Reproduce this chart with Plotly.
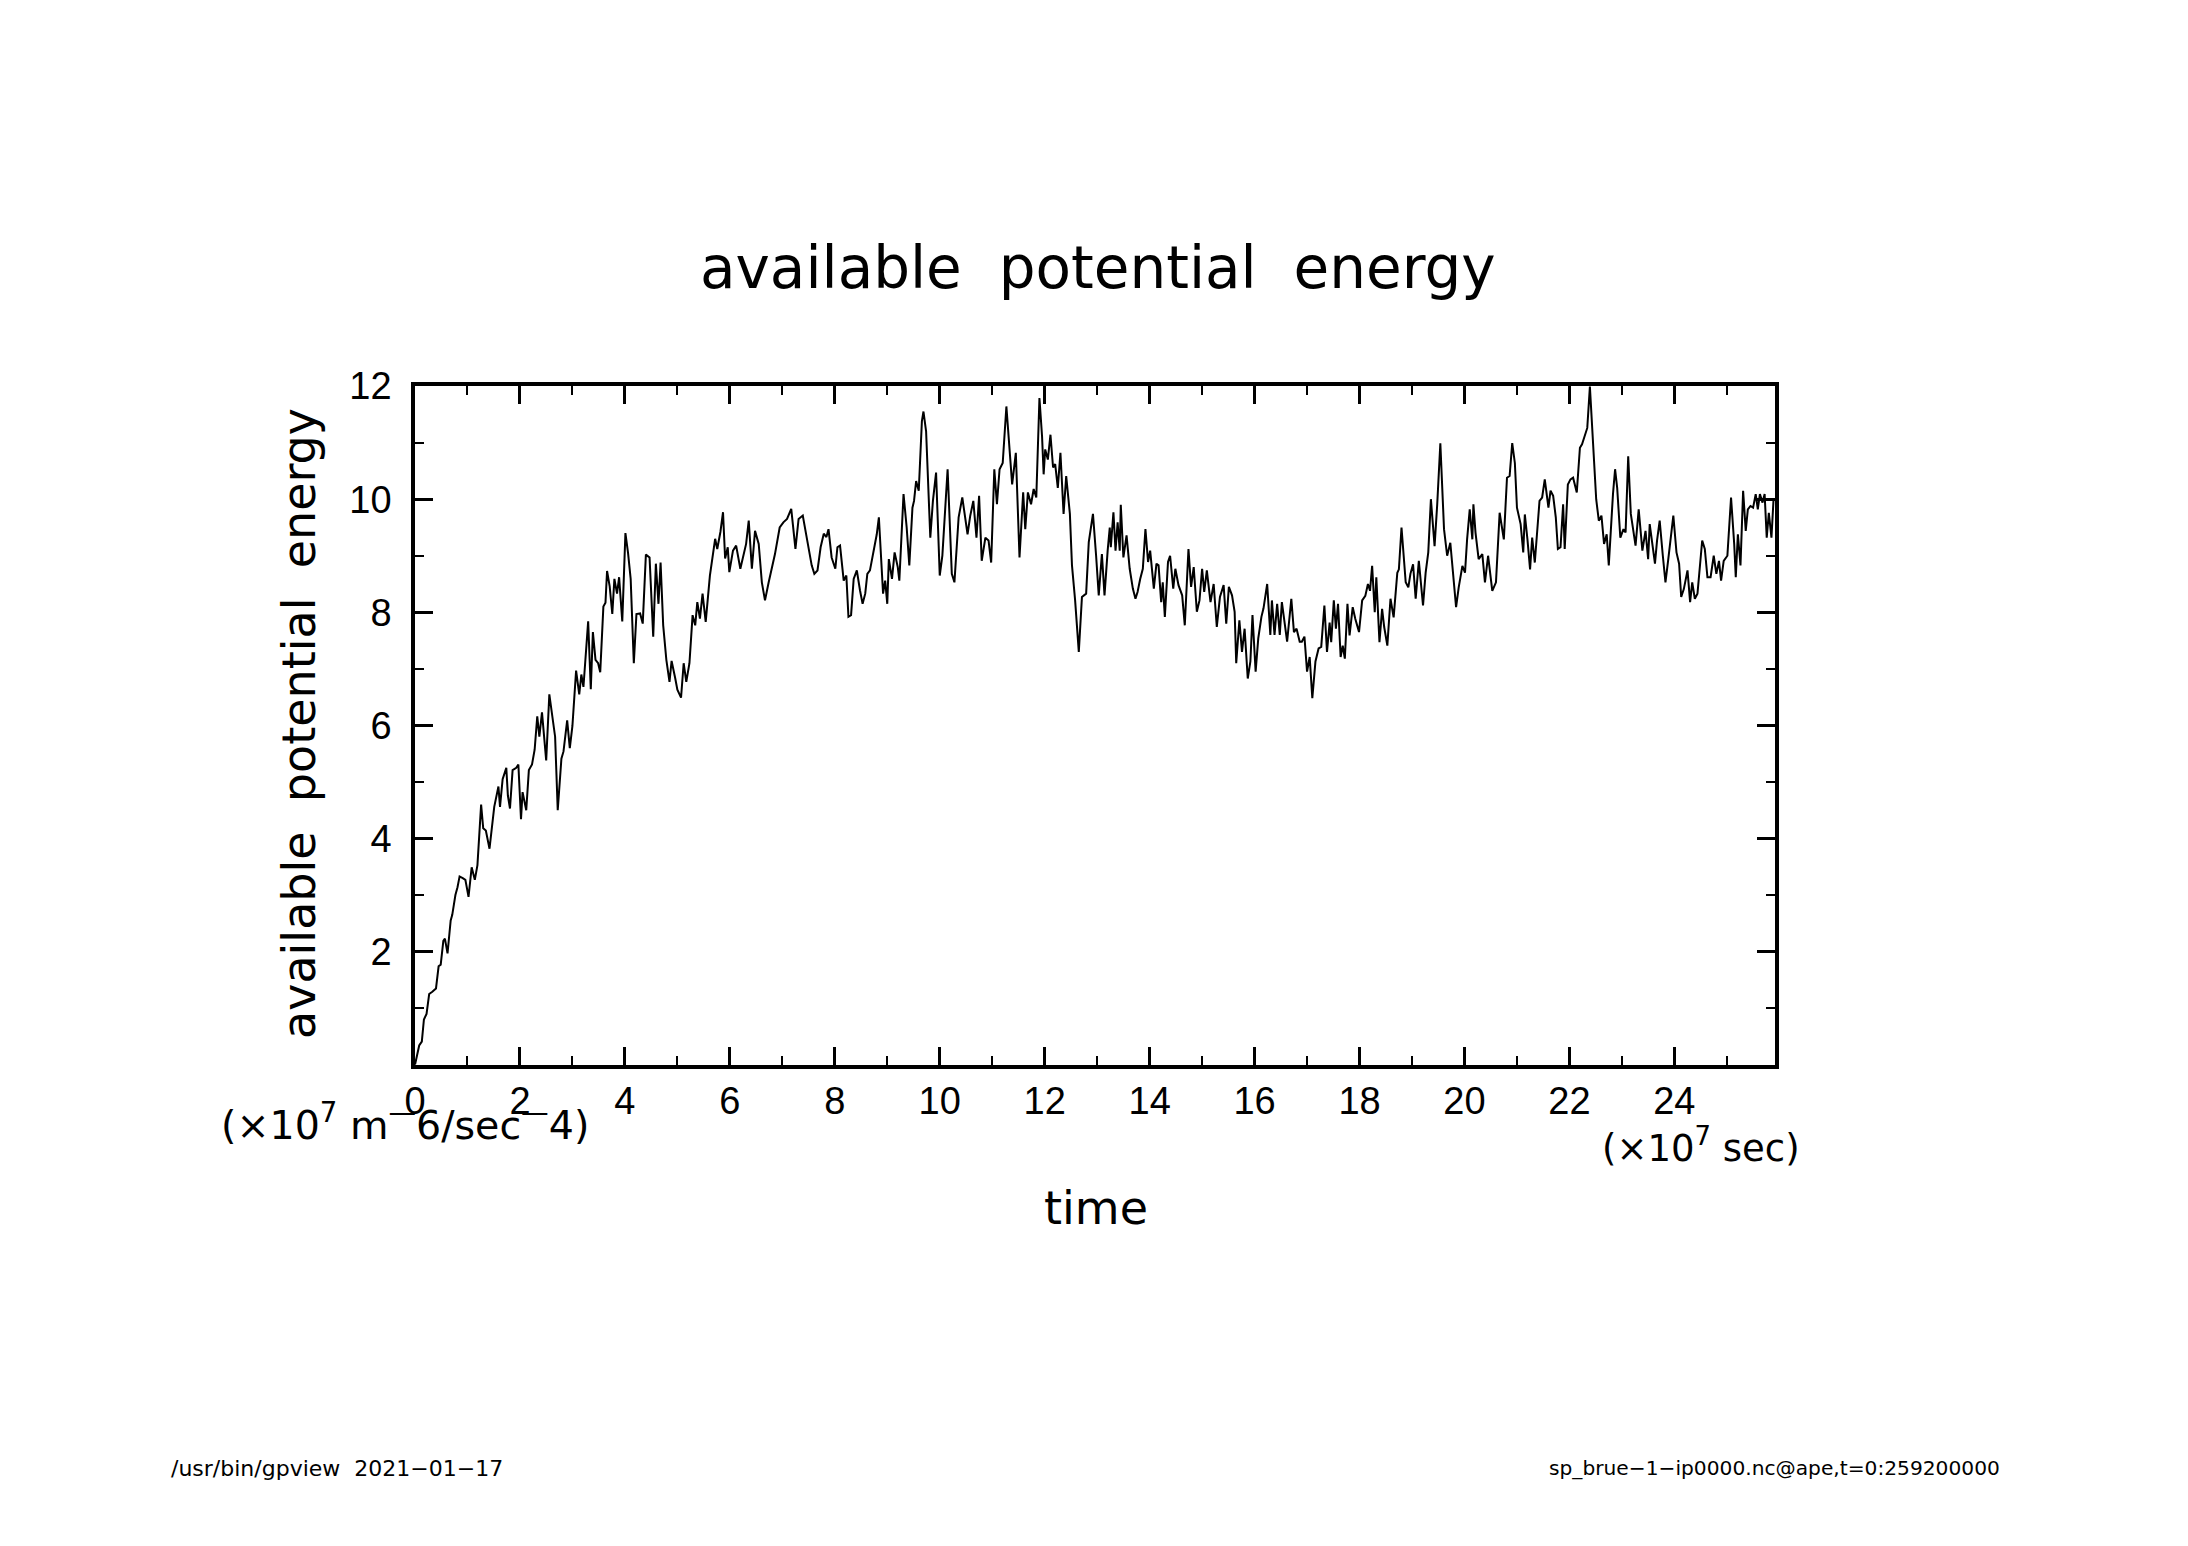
import plotly.graph_objects as go

# (time [x10^7 sec], available potential energy [x10^7])
ape_0_4 = [(0, 0), (0.08, 0.34), (0.13, 0.41), (0.17, 0.8), (0.22, 0.9), (0.27, 1.25), (0.33, 1.29),
           (0.40, 1.35), (0.45, 1.74), (0.49, 1.77), (0.54, 2.19), (0.57, 2.23), (0.62, 1.97), (0.68, 2.55),
           (0.71, 2.65), (0.77, 3.0), (0.81, 3.14), (0.85, 3.33), (0.91, 3.3), (0.96, 3.27), (1.02, 2.97),
           (1.08, 3.49), (1.14, 3.27), (1.19, 3.53), (1.26, 4.6), (1.30, 4.18), (1.35, 4.14), (1.42, 3.82),
           (1.51, 4.56), (1.54, 4.71), (1.59, 4.92), (1.62, 4.56), (1.67, 5.05), (1.74, 5.25), (1.77, 4.76),
           (1.81, 4.53), (1.86, 5.21), (1.93, 5.25), (1.97, 5.31), (2.02, 4.34), (2.05, 4.82), (2.12, 4.5),
           (2.17, 5.21), (2.23, 5.31), (2.28, 5.57), (2.33, 6.16), (2.37, 5.8), (2.42, 6.23), (2.50, 5.38),
           (2.56, 6.55), (2.63, 6.03), (2.67, 5.8), (2.72, 4.5), (2.79, 5.41), (2.83, 5.54), (2.90, 6.09),
           (2.95, 5.6), (3.00, 5.99), (3.07, 6.97), (3.13, 6.55), (3.17, 6.9), (3.21, 6.68), (3.30, 7.84),
           (3.35, 6.64), (3.39, 7.65), (3.44, 7.16), (3.49, 7.1), (3.53, 6.94), (3.59, 8.1), (3.63, 8.17),
           (3.66, 8.73), (3.71, 8.46), (3.76, 7.97), (3.80, 8.59), (3.85, 8.33), (3.89, 8.62), (3.95, 7.84),
           (4.01, 9.4), (4.06, 9.05), (4.11, 8.59), (4.17, 7.1), (4.22, 7.97)]

ape_4_8 = [(4.29, 7.98), (4.34, 7.80), (4.40, 9.02), (4.47, 8.97), (4.54, 7.57), (4.59, 8.86), (4.64, 8.15),
           (4.68, 8.88), (4.73, 7.77), (4.79, 7.16), (4.85, 6.77), (4.89, 7.14), (4.96, 6.83), (5.00, 6.63),
           (5.07, 6.49), (5.12, 7.10), (5.17, 6.77), (5.23, 7.10), (5.29, 7.95), (5.34, 7.77), (5.38, 8.18),
           (5.43, 7.89), (5.48, 8.33), (5.54, 7.83), (5.62, 8.65), (5.68, 9.00), (5.72, 9.30), (5.76, 9.12),
           (5.82, 9.42), (5.87, 9.77), (5.91, 8.95), (5.96, 9.15), (5.99, 8.71), (6.06, 9.09), (6.12, 9.18),
           (6.20, 8.77), (6.25, 8.95), (6.31, 9.21), (6.36, 9.62), (6.42, 8.77), (6.48, 9.44), (6.55, 9.21),
           (6.61, 8.53), (6.67, 8.21), (6.74, 8.53), (6.80, 8.77), (6.86, 9.03), (6.95, 9.50), (7.02, 9.59),
           (7.09, 9.65), (7.17, 9.83), (7.25, 9.12), (7.31, 9.65), (7.39, 9.71), (7.45, 9.42), (7.50, 9.18),
           (7.56, 8.83), (7.61, 8.68), (7.67, 8.74), (7.73, 9.15), (7.79, 9.39), (7.84, 9.33), (7.88, 9.47),
           (7.94, 8.97), (8.01, 8.77), (8.05, 9.15), (8.10, 9.18), (8.17, 8.56), (8.22, 8.65), (8.26, 7.92),
           (8.31, 7.95), (8.36, 8.59), (8.42, 8.74)]

ape_8_13 = [(8.48, 8.39), (8.53, 8.15), (8.58, 8.33), (8.62, 8.68), (8.67, 8.74), (8.72, 9.0), (8.77, 9.27),
            (8.8, 9.38), (8.84, 9.68), (8.88, 8.91), (8.92, 8.33), (8.96, 8.56), (9.0, 8.15), (9.03, 8.94),
            (9.09, 8.59), (9.14, 9.06), (9.2, 8.8), (9.23, 8.56), (9.31, 10.09), (9.37, 9.5), (9.42, 8.83),
            (9.48, 9.85), (9.51, 9.97), (9.55, 10.32), (9.6, 10.15), (9.66, 11.38), (9.69, 11.55), (9.74, 11.2),
            (9.82, 9.32), (9.87, 9.97), (9.93, 10.47), (10.0, 8.65), (10.05, 9.0), (10.15, 10.53), (10.23, 8.68),
            (10.28, 8.53), (10.36, 9.68), (10.43, 10.03), (10.49, 9.59), (10.53, 9.38), (10.58, 9.7),
            (10.64, 9.97), (10.7, 9.32), (10.75, 10.06), (10.8, 8.91), (10.87, 9.32), (10.93, 9.27),
            (10.98, 8.88), (11.04, 10.53), (11.09, 9.91), (11.14, 10.53), (11.2, 10.64), (11.27, 11.64),
            (11.32, 11.03), (11.38, 10.26), (11.45, 10.82), (11.52, 8.97), (11.59, 10.12), (11.63, 9.47),
            (11.68, 10.12), (11.74, 9.91), (11.79, 10.18), (11.84, 10.03), (11.9, 11.79), (11.95, 11.11),
            (11.98, 10.44), (12.01, 10.88), (12.06, 10.7), (12.11, 11.14), (12.16, 10.56), (12.2, 10.62),
            (12.25, 10.2), (12.3, 10.82), (12.36, 9.74), (12.41, 10.41), (12.48, 9.74), (12.52, 8.83),
            (12.58, 8.21), (12.65, 7.3), (12.71, 8.27), (12.79, 8.33), (12.84, 9.24), (12.92, 9.74),
            (12.98, 9.0), (13.03, 8.3)]

ape_13_17 = [(13.09, 9.03), (13.14, 8.3), (13.2, 9.09), (13.24, 9.5), (13.26, 9.15), (13.31, 9.77),
             (13.35, 9.09), (13.39, 9.59), (13.43, 9.09), (13.45, 9.9), (13.5, 8.97), (13.56, 9.36),
             (13.62, 8.77), (13.68, 8.42), (13.73, 8.24), (13.77, 8.36), (13.82, 8.59), (13.87, 8.77),
             (13.92, 9.47), (13.97, 8.89), (14.01, 9.09), (14.08, 8.42), (14.13, 8.86), (14.17, 8.83),
             (14.22, 8.18), (14.25, 8.53), (14.29, 7.92), (14.35, 8.89), (14.39, 9.0), (14.45, 8.42),
             (14.49, 8.77), (14.55, 8.48), (14.62, 8.3), (14.67, 7.77), (14.74, 9.12), (14.79, 8.45),
             (14.84, 8.8), (14.9, 8.01), (14.95, 8.21), (15.0, 8.77), (15.04, 8.36), (15.09, 8.74),
             (15.16, 8.18), (15.22, 8.5), (15.28, 7.74), (15.34, 8.27), (15.41, 8.48), (15.46, 7.8),
             (15.51, 8.45), (15.57, 8.3), (15.62, 8.01), (15.65, 7.1), (15.71, 7.86), (15.76, 7.3),
             (15.81, 7.71), (15.87, 6.83), (15.92, 7.13), (15.96, 7.95), (16.02, 6.95), (16.07, 7.54),
             (16.13, 7.92), (16.17, 8.07), (16.24, 8.5), (16.3, 7.6), (16.33, 8.21), (16.38, 7.6),
             (16.43, 8.15), (16.48, 7.6), (16.52, 8.18), (16.57, 7.83), (16.62, 7.48), (16.7, 8.24),
             (16.75, 7.65), (16.8, 7.71), (16.86, 7.48), (16.9, 7.48), (16.95, 7.57), (17.0, 6.95),
             (17.05, 7.21), (17.1, 6.48), (17.16, 7.13), (17.22, 7.36), (17.27, 7.39), (17.33, 8.12)]

ape_17_21 = [(17.38, 7.3), (17.43, 7.82), (17.46, 7.47), (17.51, 8.21), (17.55, 7.71), (17.59, 8.15),
             (17.64, 7.21), (17.68, 7.41), (17.72, 7.18), (17.77, 8.15), (17.81, 7.59), (17.87, 8.09),
             (17.92, 7.88), (17.99, 7.65), (18.05, 8.21), (18.11, 8.29), (18.16, 8.5), (18.2, 8.38),
             (18.24, 8.82), (18.29, 8.0), (18.32, 8.62), (18.38, 7.47), (18.43, 8.06), (18.47, 7.74),
             (18.53, 7.41), (18.59, 8.24), (18.65, 7.91), (18.72, 8.7), (18.75, 8.76), (18.8, 9.5),
             (18.88, 8.53), (18.93, 8.44), (18.97, 8.68), (19.02, 8.85), (19.07, 8.24), (19.13, 8.91),
             (19.21, 8.12), (19.26, 8.7), (19.31, 9.06), (19.36, 10.0), (19.43, 9.17), (19.48, 9.9),
             (19.54, 10.99), (19.61, 9.47), (19.67, 9.0), (19.73, 9.23), (19.8, 8.53), (19.84, 8.09),
             (19.89, 8.44), (19.96, 8.82), (20.01, 8.7), (20.05, 9.29), (20.1, 9.82), (20.15, 9.29),
             (20.17, 9.91), (20.21, 9.41), (20.27, 8.94), (20.34, 9.03), (20.39, 8.53), (20.45, 9.0),
             (20.53, 8.38), (20.6, 8.53), (20.67, 9.76), (20.75, 9.29), (20.81, 10.38), (20.86, 10.41),
             (20.91, 10.99), (20.96, 10.64), (21.0, 9.85), (21.07, 9.56), (21.12, 9.06), (21.15, 9.73),
             (21.2, 9.29), (21.25, 8.76), (21.29, 9.32), (21.34, 8.88), (21.43, 9.97), (21.48, 10.03),
             (21.53, 10.35), (21.6, 9.85)]

ape_21_26 = [(21.64, 10.15), (21.69, 10.06), (21.74, 9.68), (21.78, 9.12), (21.83, 9.15), (21.88, 9.91),
             (21.91, 9.12), (21.97, 10.26), (22.02, 10.35), (22.07, 10.38), (22.14, 10.12), (22.2, 10.91),
             (22.24, 10.97), (22.29, 11.11), (22.34, 11.26), (22.39, 11.99), (22.45, 11.03), (22.51, 10.0),
             (22.56, 9.62), (22.61, 9.71), (22.66, 9.21), (22.71, 9.38), (22.75, 8.83), (22.8, 9.79),
             (22.83, 10.09), (22.87, 10.53), (22.91, 10.2), (22.97, 9.32), (23.03, 9.47), (23.07, 9.41),
             (23.12, 10.76), (23.17, 9.74), (23.22, 9.44), (23.26, 9.18), (23.32, 9.82), (23.39, 9.09),
             (23.45, 9.44), (23.5, 8.94), (23.53, 9.56), (23.58, 9.21), (23.63, 8.86), (23.67, 9.27),
             (23.72, 9.62), (23.78, 9.0), (23.83, 8.53), (23.88, 8.91), (23.93, 9.27), (23.98, 9.71),
             (24.04, 9.06), (24.09, 8.86), (24.13, 8.27), (24.18, 8.41), (24.25, 8.74), (24.3, 8.18),
             (24.34, 8.53), (24.39, 8.24), (24.44, 8.33), (24.48, 8.74), (24.53, 9.27), (24.58, 9.12),
             (24.63, 8.62), (24.69, 8.62), (24.75, 9.0), (24.8, 8.68), (24.85, 8.91), (24.89, 8.56),
             (24.94, 8.91), (25.01, 9.0), (25.08, 10.03), (25.14, 9.21), (25.17, 8.62), (25.21, 9.38),
             (25.26, 8.83), (25.31, 10.15), (25.36, 9.44), (25.4, 9.82), (25.45, 9.88), (25.5, 9.85),
             (25.55, 10.09), (25.59, 9.82), (25.63, 10.09), (25.68, 9.94), (25.72, 10.09), (25.76, 9.32),
             (25.8, 9.76), (25.85, 9.32), (25.89, 10.0), (25.92, 10.0)]

x_tick_vals = [0, 2, 4, 6, 8, 10, 12, 14, 16, 18, 20, 22, 24]
x_minor_vals = [1, 3, 5, 7, 9, 11, 13, 15, 17, 19, 21, 23, 25]
y_tick_vals = [2, 4, 6, 8, 10, 12]
y_minor_vals = [1, 3, 5, 7, 9, 11]
x_range = [0, 25.92]
y_range = [0, 12]

title_text = "available \u00a0potential \u00a0energy"
ylabel_text = "available \u00a0potential \u00a0energy"
xlabel_text = "time"
y_units = "(×10<sup>7</sup> m<sup>\u2014</sup>6/sec<sup>\u2014</sup>4)"
x_units = "(×10<sup>7</sup> sec)"
footer_left = "/usr/bin/gpview \u00a02021\u221201\u221217"
footer_right = "sp_brue\u22121\u2212ip0000.nc@ape,t=0:259200000"

series = ape_0_4 + ape_4_8 + ape_8_13 + ape_13_17 + ape_17_21 + ape_21_26
time = [p[0] for p in series]
ape = [p[1] for p in series]

W, H = 2188, 1546
L, R, T, B = 398, 1765, 362, 1050


def px(x):
    return x / W


def py(y):
    return 1 - y / H


TICK_FONT = dict(family="Liberation Sans, Arial, sans-serif", size=38, color="black")
LABEL_FONT = "DejaVu Sans, sans-serif"

fig = go.Figure()
fig.add_trace(go.Scatter(x=time, y=ape, mode="lines",
                         line=dict(color="black", width=2), hoverinfo="skip"))

axis_common = dict(
    showline=True, linecolor="black", linewidth=3.5, mirror="ticks",
    ticks="inside", ticklen=18, tickwidth=3, tickcolor="black",
    showgrid=False, zeroline=False, tickfont=TICK_FONT,
)

fig.update_layout(
    width=W, height=H, autosize=False,
    margin=dict(l=0, r=0, t=0, b=0),
    paper_bgcolor="white", plot_bgcolor="white",
    showlegend=False,
    xaxis=dict(
        domain=[px(L), px(R)], range=x_range,
        tickmode="array", tickvals=x_tick_vals, ticktext=[str(v) for v in x_tick_vals],
        minor=dict(tickmode="array", tickvals=x_minor_vals, ticks="inside", ticklen=9,
                   tickwidth=2, tickcolor="black", showgrid=False),
        ticklabelstandoff=0,
        **axis_common,
    ),
    yaxis=dict(
        domain=[py(B), py(T)], range=y_range,
        tickmode="array", tickvals=y_tick_vals, ticktext=[str(v) for v in y_tick_vals],
        minor=dict(tickmode="array", tickvals=y_minor_vals, ticks="inside", ticklen=9,
                   tickwidth=2, tickcolor="black", showgrid=False),
        ticklabelstandoff=12,
        **axis_common,
    ),
)

ann = [
    dict(text=title_text, x=px(1084), y=py(242), font=dict(family=LABEL_FONT, size=58, color="black"),
         xanchor="center", yanchor="middle"),
    dict(text=ylabel_text, x=px(282), y=py(704), textangle=-90,
         font=dict(family=LABEL_FONT, size=46, color="black"), xanchor="center", yanchor="middle"),
    dict(text=xlabel_text, x=px(1082), y=py(1195), font=dict(family=LABEL_FONT, size=46, color="black"),
         xanchor="center", yanchor="middle"),
    dict(text=y_units, x=px(201), y=py(1108), font=dict(family=LABEL_FONT, size=39.5, color="black"),
         xanchor="left", yanchor="middle"),
    dict(text=x_units, x=px(1589), y=py(1132), font=dict(family=LABEL_FONT, size=37, color="black"),
         xanchor="left", yanchor="middle"),
    dict(text=footer_left, x=px(151), y=py(1459), font=dict(family=LABEL_FONT, size=22, color="black"),
         xanchor="left", yanchor="middle"),
    dict(text=footer_right, x=px(1993), y=py(1459), font=dict(family=LABEL_FONT, size=20.2, color="black"),
         xanchor="right", yanchor="middle"),
]
for a in ann:
    a.update(xref="paper", yref="paper", showarrow=False)
fig.update_layout(annotations=ann)

fig.write_html("out.html")
